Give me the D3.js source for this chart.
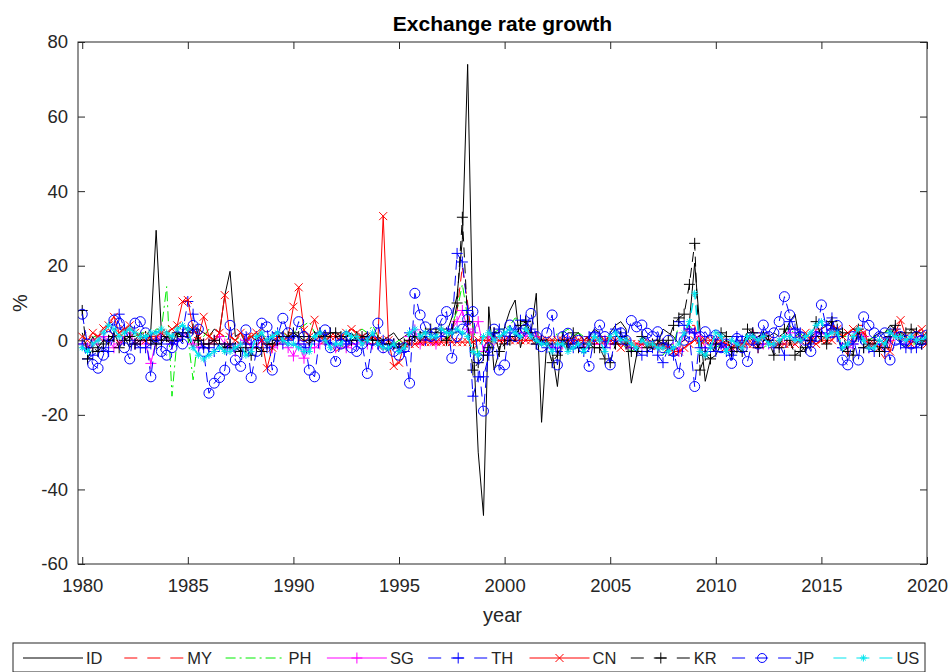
<!DOCTYPE html>
<html>
<head>
<meta charset="utf-8">
<script src="https://cdn.jsdelivr.net/npm/d3@7/dist/d3.min.js"></script>
<style>
  body { margin: 0; background: #fff; }
  svg { display: block; font-family: "Liberation Sans", Arial, Helvetica, sans-serif; }
</style>
</head>
<body>
<svg id="chart" width="950" height="672"></svg>
<script>
// Quarterly exchange rate growth (%), 1980Q1 .. 2020Q1, one row per two years
const startYear = 1980;

const ID = [
  2, -3, 1, -2,   0, -1, 2, -1,
  1, -2, 0, 2,    1, 3, 29.5, 2,
  0, -1, 2, 1,    1, -2, 3, 2,
  1, 3, 2, 12,    18.5, 1, 2, -1,
  1, 0, 2, -1,    1, 2, 0, 1,
  2, 1, 0, -1,    1, 2, 0, 1,
  1, 0, 1, 2,     0, 1, 2, 0,
  1, 0, 1, 2,     0, 1, 2, 1,
  0, 1, 0, 1,     1, 2, 6, 12,
  27, 74, 2, -30, -47, 9, -8, -3,
  3.6, 8, 10.8, -2, 4, 2, 12.6, -22,
  0.2, -3, -12.4, 2.3, -3, 1, 2, 0,
  1, 3, 2, -1,    2, 4, 5, 3,
  -11.5, -4, 1, 0, -2, -1, 3, 2,
  1, -1, 0, 5,    20.7, 3, -11, -5,
  -4, -1, 0, -1,  -2, -1, 1, 0,
  1, 2, 1, 2,     1, 2, 5, 7,
  -1, -3, 1, 2,   3, 4, 5, 1,
  -3, -2, -1, 1,  0, 0, 1, 2,
  2, 4, 3, -1,    -2, 0, -1, 1,
  2
];

const MY = [
  -1, -2, 0, 1,   2, 3, 1, -1,
  0, 1, 2, 1,     0, 0, 1, 0,
  0, 1, 2, 3,     3, 1, 0, 2,
  1, 3, 2, 1,     -2, 0, -1, 0,
  2, 1, 3, 2,     1, 0, 0, 1,
  0, 0, 0, -1,    1, 2, 1, -1,
  -3, -2, -2, -1, 2, -1, 0, 0,
  -1, -3, -2, -1, -2, -1, -1, -1,
  -1, -1, -1, -1, -1, -1, 2, 8,
  19.7, 10, -3, 0, 0, 0, 0, 0,
  0, 0, 0, 0,     0, 0, 0, 0,
  0, 0, 0, 0,     0, 0, 0, 0,
  0, 0, 0, 0,     0, 0, -0.5, -1,
  -1, -2, -1, -1, -2, -1, -2, -2,
  -2, -3, 2, 4,   4, -2, -2, -2,
  -3, -3, -2, -3, -1, -2, 0, 3,
  -1, 1, -1, -1,  -1, 1, 4, 2,
  1, -1, -1, 3,   3, 4, 4, 2,
  -2, -4, 2, 4,   4, -2, -3, -3,
  -5, -1, 2, 2,   0, 1, 1, -1,
  -1
];

const PH = [
  1, 0, 1, 1,     1, 1, 2, 1,
  2, 2, 1, 2,     2, 1, 3, 3,
  14.4, -15, 1, 3, 1, -10.6, 2, 1,
  3, 0, 1, 1,     1, 0, 1, 1,
  1, 2, 1, 0,     1, 1, 2, 1,
  2, 3, 4, 5,     2, -1, -1, 0,
  -2, -1, -3, 1,  2, 3, 2, 4,
  1, -2, -3, -1,  0, -1, 1, 1,
  0, 0, 0, 0,     0, 0, 4, 8,
  15, 6, 4, -4,   -3, -2, 2, 3,
  3, 4, 6, 5,     3, 2, -1, 1,
  -1, -1, 2, 2,   3, 1, 2, 1,
  1, 1, 1, 0,     -1, -1, -1, -2,
  -3, -2, -1, -2, -2, -3, -4, -2,
  -1, 4, 4, 4,    2, 1, -1, -1,
  -2, -1, -2, -3, -1, -1, 0, 1,
  -2, -2, -1, -2, -1, 2, 4, 1,
  2, 0, -1, 1,    0, 1, 3, 2,
  1, 1, 1, 3,     2, 0, 1, 1,
  2, 3, 2, -1,    -2, -1, -1, -1,
  0
];

const SG = [
  -1, -2, -1, 0,  1, 0, -2, -1,
  1, 2, -1, 0,    -1, -6.2, 0, 1,
  1, -1, 0, 1,    2, -1, -2, -1,
  -1, 0, 1, -1,   -2, -3, -1, 0,
  -2, -2, 0, -1,  -2, -1, 0, -2,
  -4.2, -1, -4.8, -2, -2, -1, 0, -1,
  -2, -1, -2, -1, -1, 0, -1, -1,
  -1, -2, -2, -1, -2, -3, 1, 2.8,
  -1, 0, 0, -1,   1, 2, 3, 5,
  8, 3, 2, 5,     -3, 1, 0, 1,
  0, 1, 1, 2,     1, 2, 1, 0,
  -1, -2, -2, -1, 0, -1, -1, -2,
  -1, -1, -1, 0,  -1, -1, 0, -1,
  -2, -2, -1, -1, -1, -2, -1, -2,
  -2, -3, 2, 3,   2, 1, -2, -2,
  -1, -1, -2, -3, -1, -2, 1, 1,
  -2, -1, -1, -1, -1, 1, 2, 0,
  0, 0, 0, 2,     2, 1, 3, 2,
  -2, -2, -1, 2,  1, -2, -1, -1,
  -2, 0, 2, 1,    -1, 0, 1, -1,
  0
];

const TH = [
  -1, -5, -4, -3, -2, -3, 1, 7,
  3, 0, -1, -2,   -2, -1, 0, -1,
  1, -1, 0, 2,    10.4, 7, 0, -2,
  -2, -3, -1, -2, -1, -2, -3, -1,
  -1, 1, 0, -2,   1, 2, -1, 0,
  1, -1, -2, -1,  0, 1, 0, -1,
  1, 0, -1, 0,    0, 0, 1, 0,
  -1, 0, 0, -1,   -2, -3, 2, 1,
  1, 0, 1, 1,     1, 2, 3, 23.3,
  21, 8, -15, -9.8, -9.8, -4, 2, 3,
  1, 2, 3, 5.4,   5.4, 3, -1, 0,
  -2, -1, -3, 0,  -1, -2, -1, -3,
  1, 2, 1, -2,    1, 3, 2, 0,
  -2, -3, -4, -3, -2, -4, -6, -2,
  -4, 5, 4, 3,    2, -2, -3, -2,
  -3, -1, -3, -4, 1, 0, 1, 2,
  -1, 2, 0, -2,   -1, -4, 5, 3,
  2, 0, -1, 1,    2, 4, 6, 1,
  -2, -1, -1, 1,  -2, -2, -3, -1,
  -3, 2, 3, -1,   -2, -2, -2, -1,
  1
];

const CN = [
  1, 0, 2, 1,     3.2, 4, 6.3, 2,
  3, 4, 2, 1,     0, 1, 1, 2,
  2, 3, 4, 10.4,  10.8, 3, 1, 6.3,
  1, 0, 2, 12.1,  1, 0, 2, 0,
  1, 2, 0, -7.5,  -2, 1, 0, 1,
  9, 14.2, 2.8, 1, 5.5, 1, 0, 1,
  1, 1, 2, 3,     2, 1, 0, 1,
  0, 33.3, 0, -6.9, -6, -1, -1, -1,
  -0.5, -0.5, -0.5, -0.5, -0.5, -0.5, -0.5, -0.5,
  -0.5, -0.5, -0.5, 0, 0, 0, 0, 0,
  0, 0, 0, 0,     0, 0, 0, 0,
  0, 0, 0, 0,     0, 0, 0, 0,
  0, 0, 0, 0,     0, 0, -2, -0.5,
  -1, -1, -1, -1, -1, -1.5, -1.5, -2,
  -3, -3, -2, -1, 0, 0, 0, 0,
  0, 0, -1, -2,   -1, -1, -1, -1,
  0, 1, 0, -1,    -1, -1, -1, -1,
  0, 2, 0, -1,    0, 0, 0, 3,
  1, 2, 3, 2,     2, -1, -1, -2,
  0, -3, 2, 5.4,  1, -1, 2, 3,
  -1
];

const KR = [
  8, -5, -2, -3,  -1, 0, 1, -2,
  0, 1, -1, 0,    1, 0, -1, 0,
  1, 0, 2, 1,     2, 3, 0, -1,
  -1, 0, -1, -2,  -1, -2, -3, -2,
  -4, -2, -3, -1, -1, 0, 1, 1,
  2, 1, 1, 0,     1, 2, 1, 2,
  2, 1, 1, 0,     1, 1, 0, 0,
  0, -1, -1, -1,  -2, -1, 0, 1,
  1, 2, 3, 2,     3, 0, 2, 10,
  33, 5, -8, -6,  -4, -2, 2, -3,
  -1, 0, 1, 4,    5, 2, -1, 0,
  -1, -6, -4, 0,  -1, 2, -2, -2,
  -1, -2, -2, -5, -6, -1, 1, -1,
  -3, -3, 1, -2,  -1, 0, -1, 0,
  4, 6, 7, 15,    26, -8, -4, -5,
  -1, 2, 1, -3,   -2, -3, 3, 2,
  -2, 1, 0, -4,   -2, 3, 0, -4,
  -3, -2, 0, 5,   1, -1, 5, 3,
  2, -3, -4, 3,   -2, -1, 0, -3,
  -2, 1, 4, 1,    2, 3, 2, -1,
  1
];

const JP = [
  7, -1, -6.5, -7.5, -4, 1, 5.4, 4.6,
  -2, -5, 4.6, 5,   2, -9.8, 1, -3,
  -4, -2, 1, -1,    2, 4, 3, -3,
  -14.2, -11.5, -10, -8, 4, -5.3, -7, 2.8,
  -10, -3, 4.6, 3.6, -8, 1, 5.9, 2,
  0, 5, 1, -8,      -9.8, 1, 2.8, -2,
  -5.7, -1, 1, -2,  -3, -1, -8.9, 0,
  4.6, -2, -1, -3,  -4, -2, -11.5, 12.6,
  6.8, 3.6, 1, 2,   5.4, 7.7, -4.8, 1,
  3, 5.6, 7.7, -4.8, -19, -2, 3, -8,
  -6.6, 4.1, 1, 2,  3, 7.2, 1, -1.7,
  2, 6.8, -6.6, 1,  1.9, -1, 0, -2,
  -7, 1, 4.1, 1,    -6.6, 1, 2, 0,
  5.3, 3.6, 4.1, 1.9, 1, 2.3, -2, 0,
  -3, -8.9, 0, 1,   -12.4, 1, 2.3, 0,
  1.4, -2, -1, -6.2, 0.5, -2, -5.7, 0,
  -1, 4.1, 1, 2,    5, 11.7, 6.8, 2,
  1, 0, -3, 1,      9.5, 3, 2, 4,
  -5.3, -6.6, 1, -5.3, 6.3, 4, 2, 1,
  2, -5.3, 0, 1,    0, -1, 1, 0,
  1.4
];

const US = [
  -2, -3, -1, 0,  2, 4, 3, 1,
  2, 3, 2, 1,     1, 2, 2, 3,
  2, 1, 3, 4,     3, -2, -4, -5,
  -4, -3, -2, -3, -3, -2, -1, -4,
  -3, 1, 2, 0,    1, 2, 0, -1,
  -1, -2, -3, -3, 1, 2, 0, -2,
  -1, -1, 2, 1,   1, -1, 0, 2,
  -1, -2, -2, -1, -3, -2, 2, 3,
  1, 2, 1, 1,     3, 2, 2, 3,
  2, 1, -3, -4,   1, 2, 0, 1,
  2, 3, 2, 1,     3, 1, 0, -1,
  -1, -3, -1, -1, -3, -2, -1, -3,
  -1, 1, 0, -3,   1, 2, 0, 0,
  -1, -2, 0, -1,  -1, -2, -2, -3,
  -2, -1, 2, 5,   12.6, -3, -4, -2,
  2, 1, -3, 0,    -1, -2, 1, 1,
  0, 1, -1, -1,   0, 1, 1, 0,
  0, 1, 2, 4,     5, 1, 2, 2,
  -2, -1, 1, 3,   0, -2, -2, 0,
  -1, 2, 1, 1,    0, 1, 0, 0,
  1
];

const seriesNames = ["ID", "MY", "PH", "SG", "TH", "CN", "KR", "JP", "US"];
const seriesValues = [ID, MY, PH, SG, TH, CN, KR, JP, US];
const xTickYears = [1980, 1985, 1990, 1995, 2000, 2005, 2010, 2015, 2020];
const yTickValues = [-60, -40, -20, 0, 20, 40, 60, 80];

// Line styles: colour, dash pattern, marker
const DASH = "10,6";
const DASHDOT = "10,4,2,4";
const styles = {
  ID: { color: "#000000", dash: null,    marker: null },
  MY: { color: "#ff0000", dash: DASH,    marker: null },
  PH: { color: "#00ee00", dash: DASHDOT, marker: null },
  SG: { color: "#ff00ff", dash: null,    marker: "plus" },
  TH: { color: "#0000ff", dash: DASH,    marker: "plus" },
  CN: { color: "#ff0000", dash: null,    marker: "cross" },
  KR: { color: "#000000", dash: DASH,    marker: "plus" },
  JP: { color: "#0000ff", dash: DASH,    marker: "circle" },
  US: { color: "#00e5ee", dash: DASH,    marker: "star" }
};

const axisColor = "#262626";
const plot = { left: 78, right: 927, top: 42, bottom: 564 };

const svg = d3.select("#chart");

const x = d3.scaleLinear().domain([1979.8, 2020]).range([plot.left, plot.right]);
const y = d3.scaleLinear().domain([-60, 80]).range([plot.bottom, plot.top]);

const tOf = i => startYear + i * 0.25;

svg.append("defs").append("clipPath").attr("id", "plotClip")
  .append("rect")
  .attr("x", plot.left).attr("y", plot.top)
  .attr("width", plot.right - plot.left).attr("height", plot.bottom - plot.top);

const markerPath = {
  plus: s => `M${-s},0H${s}M0,${-s}V${s}`,
  cross: s => `M${-s},${-s}L${s},${s}M${-s},${s}L${s},${-s}`,
  star: s => `M${-s},0H${s}M0,${-s}V${s}M${-s*0.7},${-s*0.7}L${s*0.7},${s*0.7}M${-s*0.7},${s*0.7}L${s*0.7},${-s*0.7}`
};
const markerSize = { plus: 5.5, cross: 4, star: 3.5 };

function drawMarker(g, type, cx, cy, color, scale) {
  const k = scale || 1;
  if (type === "circle") {
    g.append("circle").attr("cx", cx).attr("cy", cy).attr("r", 5 * k)
      .attr("fill", "none").attr("stroke", color).attr("stroke-width", 1);
  } else {
    g.append("path").attr("d", markerPath[type](markerSize[type] * k))
      .attr("transform", `translate(${cx},${cy})`)
      .attr("fill", "none").attr("stroke", color).attr("stroke-width", 1);
  }
}

const dataLayer = svg.append("g").attr("clip-path", "url(#plotClip)");
const line = d3.line().x((d, i) => x(tOf(i))).y(d => y(d));

seriesNames.forEach((name, si) => {
  const vals = seriesValues[si];
  const st = styles[name];
  const g = dataLayer.append("g");
  g.append("path")
    .attr("d", line(vals))
    .attr("fill", "none")
    .attr("stroke", st.color)
    .attr("stroke-width", name === "US" ? 1.5 : 1)
    .attr("stroke-linejoin", "round")
    .attr("stroke-dasharray", st.dash);
  if (st.marker) {
    vals.forEach((v, i) => drawMarker(g, st.marker, x(tOf(i)), y(v), st.color));
  }
});

// Axes, ticks pointing inward on all four sides
const tickFont = 18.5;
const labelFont = 20;
const plainNumber = d => String(d);
const xAxis = d3.axisBottom(x).tickValues(xTickYears).tickFormat(plainNumber)
  .tickSizeInner(-7).tickSizeOuter(0).tickPadding(15);
const yAxis = d3.axisLeft(y).tickValues(yTickValues).tickFormat(plainNumber)
  .tickSizeInner(-7).tickSizeOuter(0).tickPadding(10);

const gx = svg.append("g").attr("transform", `translate(0,${plot.bottom})`).call(xAxis);
const gy = svg.append("g").attr("transform", `translate(${plot.left},0)`).call(yAxis);
const gxTop = svg.append("g").attr("transform", `translate(0,${plot.top})`)
  .call(d3.axisTop(x).tickValues(xTickYears).tickSizeInner(-7).tickSizeOuter(0).tickFormat(""));
const gyRight = svg.append("g").attr("transform", `translate(${plot.right},0)`)
  .call(d3.axisRight(y).tickValues(yTickValues).tickSizeInner(-7).tickSizeOuter(0).tickFormat(""));

[gx, gy, gxTop, gyRight].forEach(g => {
  g.select(".domain").remove();
  g.selectAll(".tick line").attr("stroke", axisColor).attr("stroke-width", 1);
  g.selectAll(".tick text").attr("fill", axisColor)
    .style("font-size", tickFont + "px")
    .style("font-family", '"Liberation Sans", Arial, sans-serif');
});

svg.append("rect")
  .attr("x", plot.left).attr("y", plot.top)
  .attr("width", plot.right - plot.left).attr("height", plot.bottom - plot.top)
  .attr("fill", "none").attr("stroke", axisColor).attr("stroke-width", 1);

// Title and axis labels
svg.append("text")
  .attr("x", (plot.left + plot.right) / 2).attr("y", 31)
  .attr("text-anchor", "middle")
  .attr("font-weight", "bold").attr("font-size", 21).attr("fill", "#000")
  .text("Exchange rate growth");

svg.append("text")
  .attr("x", (plot.left + plot.right) / 2).attr("y", 622)
  .attr("text-anchor", "middle").attr("font-size", labelFont).attr("fill", axisColor)
  .text("year");

svg.append("text")
  .attr("transform", `translate(27,${(plot.top + plot.bottom) / 2}) rotate(-90)`)
  .attr("text-anchor", "middle").attr("font-size", labelFont).attr("fill", axisColor)
  .text("%");

// Legend along the bottom
const legend = svg.append("g");
const legendBox = { x: 13, y: 643, w: 912, h: 29 };
legend.append("rect")
  .attr("x", legendBox.x).attr("y", legendBox.y)
  .attr("width", legendBox.w).attr("height", legendBox.h)
  .attr("fill", "#fff").attr("stroke", axisColor).attr("stroke-width", 1);

const itemStep = 101.3;
const lineLen = 60;
seriesNames.forEach((name, i) => {
  const st = styles[name];
  const x0 = 23 + i * itemStep;
  const ly = 658;
  const g = legend.append("g");
  g.append("line")
    .attr("x1", x0).attr("x2", x0 + lineLen).attr("y1", ly).attr("y2", ly)
    .attr("stroke", st.color).attr("stroke-width", 1)
    .attr("stroke-dasharray", st.dash === DASH ? "13,10" : st.dash);
  if (st.marker) drawMarker(g, st.marker, x0 + lineLen / 2, ly, st.color, st.marker === "circle" ? 0.9 : 1);
  g.append("text")
    .attr("x", x0 + lineLen + 3).attr("y", ly + 6)
    .attr("font-size", 16.5).attr("fill", axisColor)
    .text(name);
});
</script>
</body>
</html>
